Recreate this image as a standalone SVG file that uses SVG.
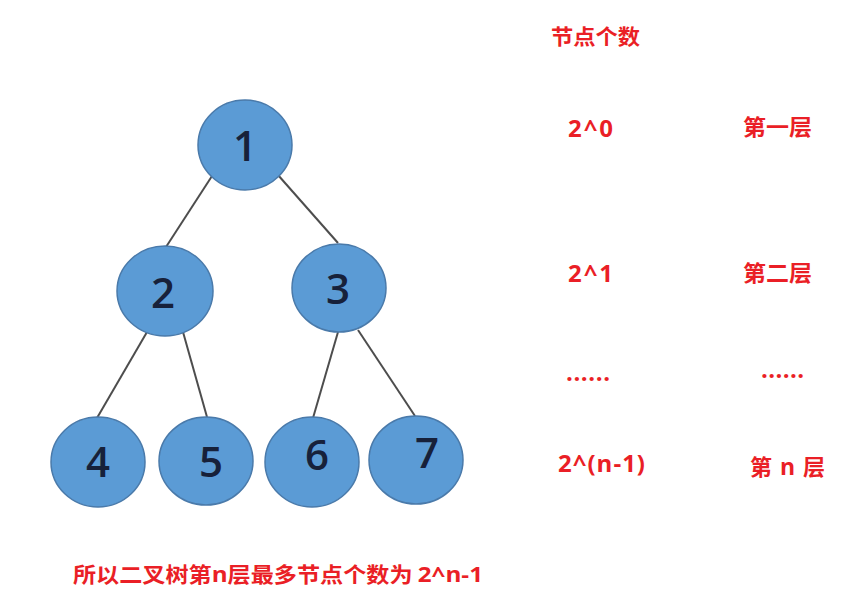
<svg xmlns="http://www.w3.org/2000/svg" width="857" height="601" viewBox="0 0 857 601">
<style>
.node{fill:#5b9bd5;stroke:#4a7aaa;stroke-width:1.5}
.num{font-family:"Open Sans","Liberation Sans",sans-serif;font-weight:600;font-size:42px;fill:#17213a;text-anchor:middle}
.edge{stroke:#4d4d4d;stroke-width:2;fill:none}
.lbl{font-family:"Noto Sans CJK SC","Noto Sans",sans-serif;font-weight:700;fill:#ea1f26}
.lat{font-family:"Open Sans","Liberation Sans",sans-serif;font-weight:700;fill:#ea1f26;font-size:24px}
</style>
<rect width="857" height="601" fill="#ffffff"/>
<g id="connectors">
<line class="edge" x1="212" y1="176" x2="166" y2="247"/>
<line class="edge" x1="278" y1="175" x2="338" y2="243"/>
<line class="edge" x1="147" y1="332" x2="97" y2="418"/>
<line class="edge" x1="183" y1="332" x2="207" y2="417"/>
<line class="edge" x1="338" y1="332" x2="313" y2="418"/>
<line class="edge" x1="358" y1="330" x2="415" y2="416"/>
</g>
<g id="node1"><ellipse class="node" cx="245" cy="145" rx="47" ry="45"/><text class="num" x="245" y="161">1</text></g>
<g id="node2"><ellipse class="node" cx="165" cy="291" rx="48" ry="45"/><text class="num" x="163" y="308">2</text></g>
<g id="node3"><ellipse class="node" cx="339" cy="288" rx="47" ry="44"/><text class="num" x="338" y="304">3</text></g>
<g id="node4"><ellipse class="node" cx="98" cy="462" rx="47" ry="45"/><text class="num" x="98" y="477">4</text></g>
<g id="node5"><ellipse class="node" cx="206" cy="461" rx="47" ry="44"/><text class="num" x="211" y="477">5</text></g>
<g id="node6"><ellipse class="node" cx="312" cy="462" rx="47" ry="45"/><text class="num" x="317" y="470">6</text></g>
<g id="node7"><ellipse class="node" cx="416" cy="460" rx="47" ry="44"/><text class="num" x="427" y="468">7</text></g>
<g id="labels">
<text class="lbl" x="551" y="44" font-size="21" textLength="89" lengthAdjust="spacingAndGlyphs">节点个数</text>
<text class="lat" x="568" y="137" textLength="45" lengthAdjust="spacing">2^0</text>
<text class="lbl" x="743" y="135" font-size="22" textLength="69" lengthAdjust="spacingAndGlyphs">第一层</text>
<text class="lat" x="568" y="282" textLength="45" lengthAdjust="spacing">2^1</text>
<text class="lbl" x="743" y="281" font-size="22" textLength="69" lengthAdjust="spacingAndGlyphs">第二层</text>
<text class="lat" x="566" y="381" font-size="20" textLength="44" lengthAdjust="spacing">......</text>
<text class="lat" x="761" y="378" font-size="20" textLength="43" lengthAdjust="spacing">......</text>
<text class="lat" x="558" y="472" textLength="87" lengthAdjust="spacing">2^(n-1)</text>
<text class="lbl" x="750" y="475" font-size="22" textLength="75" lengthAdjust="spacing">第 <tspan font-family="Open Sans, sans-serif" font-size="23">n</tspan> 层</text>
<text class="lbl" x="73" y="582" font-size="21" textLength="410" lengthAdjust="spacingAndGlyphs">所以二叉树第<tspan font-family="Open Sans, sans-serif" font-size="22">n</tspan>层最多节点个数为 <tspan font-family="Open Sans, sans-serif" font-size="22">2^n-1</tspan></text>
</g>
</svg>
